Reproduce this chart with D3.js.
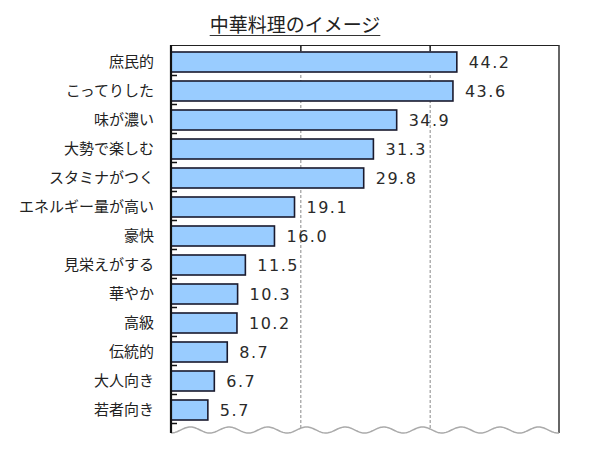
<!DOCTYPE html>
<html>
<head>
<meta charset="utf-8">
<script src="https://cdn.jsdelivr.net/npm/d3@7"></script>
<style>
  body { margin: 0; background: #fff; }
  .cat { font-family: "Noto Sans CJK JP", sans-serif; font-size: 15px; fill: #222; }
  .val { font-family: "DejaVu Sans", sans-serif; font-size: 16px; fill: #2a2a2a; letter-spacing: 1.5px; }
  .title { font-family: "Noto Sans CJK JP", sans-serif; font-size: 19px; fill: #222; }
</style>
</head>
<body>
<div id="chart"></div>
<script>
var categories = ["庶民的", "こってりした", "味が濃い", "大勢で楽しむ", "スタミナがつく",
  "エネルギー量が高い", "豪快", "見栄えがする", "華やか", "高級", "伝統的", "大人向き", "若者向き"];
var values = [44.2, 43.6, 34.9, 31.3, 29.8, 19.1, 16.0, 11.5, 10.3, 10.2, 8.7, 6.7, 5.7];
var gridTicks = [20, 40];
var titleText = "中華料理のイメージ";

var svg = d3.select("#chart")
  .append("svg")
  .attr("width", 600)
  .attr("height", 450);

var margin = {top: 45, left: 171, right: 559, bottom: 430};

var x = d3.scaleLinear()
  .domain([0, 60])
  .range([margin.left, margin.right]);

var y = d3.scaleBand()
  .domain(categories)
  .range([47.5, 424.5])
  .paddingInner(0.31)
  .paddingOuter(0.155);

// title
var title = svg.append("text")
  .attr("class", "title")
  .attr("x", 295)
  .attr("y", 32)
  .attr("text-anchor", "middle")
  .text(titleText);

var tb = title.node().getBBox();
svg.append("line")
  .attr("x1", tb.x)
  .attr("x2", tb.x + tb.width)
  .attr("y1", 35.5)
  .attr("y2", 35.5)
  .attr("stroke", "#333")
  .attr("stroke-width", 1.2);

// dashed grid lines
svg.selectAll(".grid")
  .data(gridTicks)
  .enter().append("line")
  .attr("class", "grid")
  .attr("x1", function(d) { return x(d) + 0.5; })
  .attr("x2", function(d) { return x(d) + 0.5; })
  .attr("y1", margin.top)
  .attr("y2", margin.bottom)
  .attr("stroke", "#888")
  .attr("stroke-width", 1)
  .attr("stroke-dasharray", "3,2");

// top frame line + ticks
svg.append("line")
  .attr("x1", margin.left)
  .attr("x2", margin.right)
  .attr("y1", margin.top + 0.5)
  .attr("y2", margin.top + 0.5)
  .attr("stroke", "#222")
  .attr("stroke-width", 1.2);

svg.selectAll(".topTick")
  .data(gridTicks)
  .enter().append("line")
  .attr("x1", function(d) { return x(d) + 0.5; })
  .attr("x2", function(d) { return x(d) + 0.5; })
  .attr("y1", margin.top)
  .attr("y2", margin.top + 6)
  .attr("stroke", "#222")
  .attr("stroke-width", 1.5);

// right frame line
svg.append("line")
  .attr("x1", margin.right)
  .attr("x2", margin.right)
  .attr("y1", margin.top)
  .attr("y2", margin.bottom + 3)
  .attr("stroke", "#333")
  .attr("stroke-width", 1.5);

// wavy break line at bottom
var wave = d3.range(margin.left, margin.right + 0.5, 1).map(function(px) {
  return [px, margin.bottom + 3 * Math.cos(2 * Math.PI * (px - margin.left) / 38.7)];
});
svg.append("path")
  .attr("d", d3.line()(wave))
  .attr("fill", "none")
  .attr("stroke", "#aaa")
  .attr("stroke-width", 1.5);

// bars
svg.selectAll(".bar")
  .data(values)
  .enter().append("rect")
  .attr("class", "bar")
  .attr("x", x(0))
  .attr("y", function(d, i) { return y(categories[i]); })
  .attr("width", function(d) { return x(d) - x(0); })
  .attr("height", y.bandwidth())
  .attr("fill", "#99ccff")
  .attr("stroke", "#1a1a2e")
  .attr("stroke-width", 1.6);

// value labels
svg.selectAll(".val")
  .data(values)
  .enter().append("text")
  .attr("class", "val")
  .attr("x", function(d) { return x(d) + 12; })
  .attr("y", function(d, i) { return y(categories[i]) + y.bandwidth() / 2; })
  .attr("dy", "0.36em")
  .text(function(d) { return d.toFixed(1); });

// left axis with inner ticks at band boundaries
var step = y.step();
svg.selectAll(".leftTick")
  .data(categories.slice(1).concat(["end"]))
  .enter().append("line")
  .attr("x1", margin.left)
  .attr("x2", margin.left + 6)
  .attr("y1", function(d, i) { return y(categories[0]) - y.paddingOuter() * step + (i + 1) * step - 1; })
  .attr("y2", function(d, i) { return y(categories[0]) - y.paddingOuter() * step + (i + 1) * step - 1; })
  .attr("stroke", "#111")
  .attr("stroke-width", 1.5);

svg.append("line")
  .attr("x1", margin.left)
  .attr("x2", margin.left)
  .attr("y1", margin.top)
  .attr("y2", margin.bottom + 3)
  .attr("stroke", "#111")
  .attr("stroke-width", 2.2);

// category labels
svg.selectAll(".cat")
  .data(categories)
  .enter().append("text")
  .attr("class", "cat")
  .attr("x", 154)
  .attr("y", function(d) { return y(d) + y.bandwidth() / 2; })
  .attr("dy", "0.35em")
  .attr("text-anchor", "end")
  .text(function(d) { return d; });
</script>
</body>
</html>
